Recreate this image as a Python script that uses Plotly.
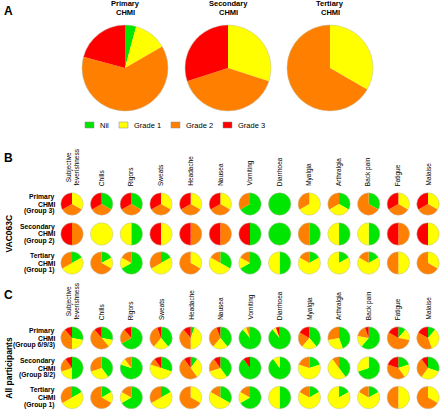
import plotly.graph_objects as go

W, H = 440, 410
FONT = "Arial, Liberation Sans, sans-serif"

# ---------------- data ----------------
grades = ["Nil", "Grade 1", "Grade 2", "Grade 3"]
grade_colors = ["#00e600", "#ffff00", "#ff8000", "#ff0000"]

symptoms = ["Subjective<br>feverishness", "Chills", "Rigors", "Sweats", "Headache", "Nausea",
            "Vomiting", "Diarrhoea", "Myalgia", "Arthralgia", "Back pain", "Fatigue", "Malaise"]

overall_titles = ["Primary<br>CHMI", "Secondary<br>CHMI", "Tertiary<br>CHMI"]
overall_primary = [1, 3, 15, 5]
overall_secondary = [0, 3, 4, 3]
overall_tertiary = [0, 1, 2, 0]

rows_b = ["Primary<br>CHMI<br>(Group 3)", "Secondary<br>CHMI<br>(Group 2)", "Tertiary<br>CHMI<br>(Group 1)"]
rows_c = ["Primary<br>CHMI<br>(Group 6/9/3)", "Secondary<br>CHMI<br>(Group 8/2)", "Tertiary<br>CHMI<br>(Group 1)"]

# counts per symptom: [Nil, Grade 1, Grade 2, Grade 3]
vac_primary = [[0, 1, 1, 1], [1, 0, 1, 1], [1, 0, 1, 1], [0, 1, 1, 1], [0, 1, 1, 1], [0, 1, 1, 1],
               [2, 0, 1, 0], [3, 0, 0, 0], [0, 2, 1, 0], [1, 1, 1, 0], [1, 0, 2, 0], [0, 1, 1, 1], [0, 1, 1, 1]]
vac_secondary = [[0, 0, 1, 1], [0, 2, 0, 0], [1, 1, 0, 0], [0, 1, 0, 1], [0, 0, 1, 1], [0, 0, 1, 1],
                 [1, 0, 0, 1], [2, 0, 0, 0], [1, 0, 1, 0], [1, 1, 0, 0], [1, 1, 0, 0], [0, 0, 1, 1], [0, 1, 0, 1]]
vac_tertiary = [[1, 3, 2, 0], [1, 1, 4, 0], [4, 1, 1, 0], [1, 3, 2, 0], [0, 2, 4, 0], [2, 3, 1, 0],
                [4, 1, 1, 0], [3, 3, 0, 0], [1, 4, 1, 0], [1, 5, 0, 0], [1, 4, 1, 0], [0, 3, 3, 0], [0, 2, 4, 0]]
all_primary = [[5, 4, 7, 2], [5, 2, 9, 2], [12, 0, 4, 2], [7, 4, 6, 1], [1, 8, 7, 2], [7, 4, 6, 1],
               [16, 1, 1, 0], [16, 1, 0, 1], [7, 4, 4, 3], [8, 5, 5, 0], [11, 3, 3, 1], [2, 3, 10, 3], [2, 6, 7, 3]]
all_secondary = [[5, 2, 2, 1], [4, 3, 3, 0], [8, 1, 1, 0], [3, 5, 1, 1], [1, 3, 5, 1], [4, 3, 2, 1],
                 [9, 0, 0, 1], [9, 1, 0, 0], [2, 6, 2, 0], [4, 5, 1, 0], [7, 3, 0, 0], [2, 2, 4, 2], [3, 3, 3, 1]]
all_tertiary = vac_tertiary

# ---------------- layout constants ----------------
A_CX = [125, 228, 330]
A_CY = 68
A_R = 43
COL_X0, COL_X1 = 72, 428
B_ROWS_Y = [204, 234, 263]
C_ROWS_Y = [338, 368, 397.5]
SMALL_R = 11.2
LEGEND_X = [85, 119, 171, 223]
LEGEND_Y = 125

fig = go.Figure()
shapes = []
annotations = []


def px(x):
    return x / W


def py(y):
    return 1 - y / H


def add_pie(values, cx, cy, r):
    fig.add_trace(go.Pie(
        values=values, labels=grades, sort=False, direction="clockwise", rotation=0,
        marker=dict(colors=grade_colors, line=dict(width=0)),
        textinfo="none", hoverinfo="label+value", showlegend=False,
        domain=dict(x=[px(cx - r), px(cx + r)], y=[py(cy + r), py(cy - r)]),
    ))
    shapes.append(dict(type="circle", xref="paper", yref="paper",
                       x0=px(cx - r), x1=px(cx + r), y0=py(cy + r), y1=py(cy - r),
                       line=dict(color="rgba(190,190,170,0.8)", width=0.6), layer="above"))


def add_text(text, x, y, size, bold=False, xanchor="center", yanchor="middle", angle=0):
    t = "<b>%s</b>" % text if bold else text
    annotations.append(dict(text=t, x=px(x), y=py(y), xref="paper", yref="paper",
                            xanchor=xanchor, yanchor=yanchor, textangle=angle, showarrow=False,
                            font=dict(family=FONT, size=size, color="black")))


def add_lines(text, x, y_center, size, spacing, bold=True, xanchor="center"):
    lines = text.split("<br>")
    n = len(lines)
    for i, ln in enumerate(lines):
        add_text(ln, x, y_center + (i - (n - 1) / 2) * spacing, size, bold=bold, xanchor=xanchor)


# ---------------- Panel A ----------------
add_text("A", 2, 11, 12, bold=True, xanchor="left")
for title, vals, cx in zip(overall_titles, [overall_primary, overall_secondary, overall_tertiary], A_CX):
    add_pie(vals, cx, A_CY, A_R)
    add_lines(title, cx, 8, 7.5, 8.3)

for g, c, lx in zip(grades, grade_colors, LEGEND_X):
    shapes.append(dict(type="rect", xref="paper", yref="paper",
                       x0=px(lx), x1=px(lx + 9), y0=py(LEGEND_Y + 3), y1=py(LEGEND_Y - 3),
                       fillcolor=c, line=dict(color="#888888", width=0.5)))
    add_text(g, lx + 13, LEGEND_Y, 7.5, xanchor="left")

# ---------------- Panels B and C ----------------
n_cols = len(symptoms)
col_x = [COL_X0 + i * (COL_X1 - COL_X0) / (n_cols - 1) for i in range(n_cols)]


def panel(letter, letter_y, side_label, rows_y, row_names, datasets):
    add_text(letter, 2, letter_y, 12, bold=True, xanchor="left")
    label_bottom = rows_y[0] - 16
    for sx, s in zip(col_x, symptoms):
        add_text(s, sx, label_bottom, 6.5, xanchor="center", yanchor="bottom", angle=-90)
    add_text(side_label, 9, (rows_y[0] + rows_y[-1]) / 2, 8.5, bold=True, angle=-90)
    for ry, name, data in zip(rows_y, row_names, datasets):
        add_lines(name, 57, ry, 6.8, 7.2, xanchor="right")
        for sx, vals in zip(col_x, data):
            add_pie(vals, sx, ry, SMALL_R)


panel("B", 158, "VAC063C", B_ROWS_Y, rows_b, [vac_primary, vac_secondary, vac_tertiary])
panel("C", 295, "All participants", C_ROWS_Y, rows_c, [all_primary, all_secondary, all_tertiary])

fig.update_layout(
    width=W, height=H, margin=dict(l=0, r=0, t=0, b=0),
    paper_bgcolor="white", plot_bgcolor="white",
    shapes=shapes, annotations=annotations, showlegend=False,
)
fig.write_html("out.html", config={"displayModeBar": False},
               post_script="document.body.style.margin='0px';document.body.style.overflow='hidden';")
